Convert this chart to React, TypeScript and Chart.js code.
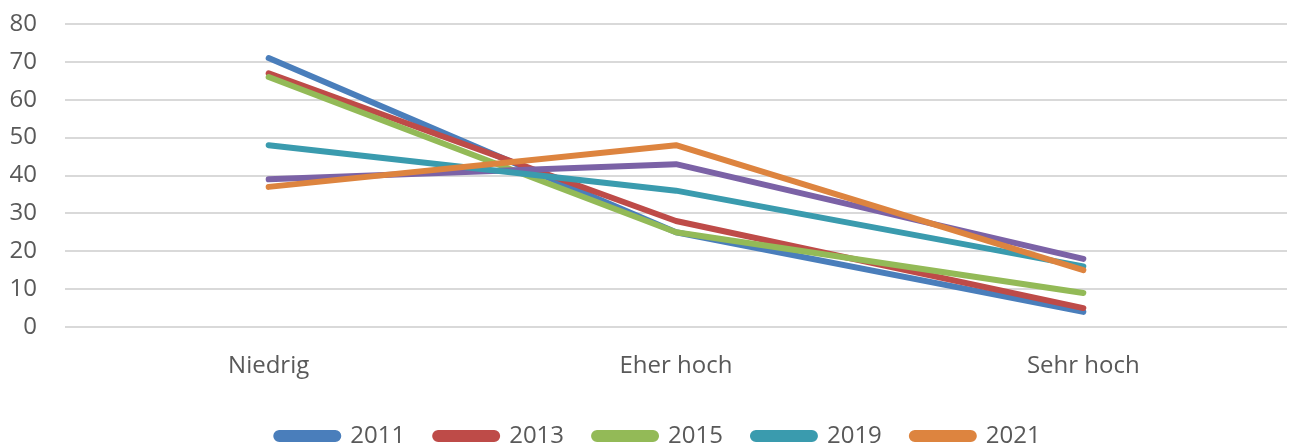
import React, { useEffect, useRef } from "react";
import { Chart, registerables } from "chart.js";

Chart.register(...registerables);

const categories = ["Niedrig", "Eher hoch", "Sehr hoch"];
const seriesNames = ["2011", "2013", "2015", "2017", "2019", "2021"];
const values2011 = [71, 25, 4];
const values2013 = [67, 28, 5];
const values2015 = [66, 25, 9];
const values2017 = [39, 43, 18];
const values2019 = [48, 36, 16];
const values2021 = [37, 48, 15];
const seriesValues = [values2011, values2013, values2015, values2017, values2019, values2021];
const seriesColors = ["#4A7EBB", "#BE4B48", "#93BA57", "#7B62A6", "#3A9BAE", "#DD843F"];
const hiddenFromLegend = ["2017"];

const shiftLegend = {
  id: "shiftLegend",
  afterLayout(chart: any) {
    if (chart.legend) {
      chart.legend.left += 15;
      chart.legend.right += 15;
    }
  },
};

export default function App() {
  const ref = useRef<HTMLCanvasElement | null>(null);

  useEffect(() => {
    document.body.style.margin = "0";
    document.body.style.overflow = "hidden";
    const canvas = ref.current;
    if (!canvas) return;
    const font = { family: "'Open Sans', sans-serif", size: 24 };
    const chart = new Chart(canvas, {
      type: "line",
      data: {
        labels: categories,
        datasets: seriesNames.map((name, i) => ({
          label: name,
          data: seriesValues[i],
          borderColor: seriesColors[i],
          backgroundColor: seriesColors[i],
          borderWidth: 6,
          borderCapStyle: "round",
          borderJoinStyle: "round",
          pointRadius: 0,
          pointHoverRadius: 0,
          tension: 0,
          fill: false,
          order: seriesNames.length - i,
        })),
      },
      options: {
        animation: false,
        responsive: false,
        maintainAspectRatio: false,
        layout: { padding: { top: 24, left: 0, right: 4, bottom: 0 } },
        scales: {
          x: {
            offset: true,
            grid: { display: false },
            border: { display: false },
            ticks: { color: "#595959", font, padding: 17, maxRotation: 0 },
            afterFit: (s: any) => {
              s.height = 67;
            },
          },
          y: {
            min: 0,
            max: 80,
            ticks: { stepSize: 10, color: "#595959", font, padding: 28 },
            grid: { color: "#d9d9d9", lineWidth: 2, drawTicks: false },
            border: { display: false },
            afterFit: (s: any) => {
              s.width = 65;
              s.paddingTop = 0;
              s.paddingBottom = 0;
            },
          },
        },
        plugins: {
          tooltip: { enabled: false },
          legend: {
            position: "bottom",
            labels: {
              color: "#595959",
              font,
              boxWidth: 62,
              boxHeight: 6,
              padding: 30,
              useBorderRadius: true,
              borderRadius: 3,
              filter: (item: any) => !hiddenFromLegend.includes(item.text),
              sort: (a: any, b: any) => a.datasetIndex - b.datasetIndex,
            },
          },
        },
      },
      plugins: [shiftLegend],
    });
    return () => chart.destroy();
  }, []);

  return (
    <div style={{ width: 1291, height: 446, overflow: "hidden", position: "relative" }}>
      <canvas ref={ref} width={1291} height={458} style={{ display: "block", width: 1291, height: 458 }} />
    </div>
  );
}
